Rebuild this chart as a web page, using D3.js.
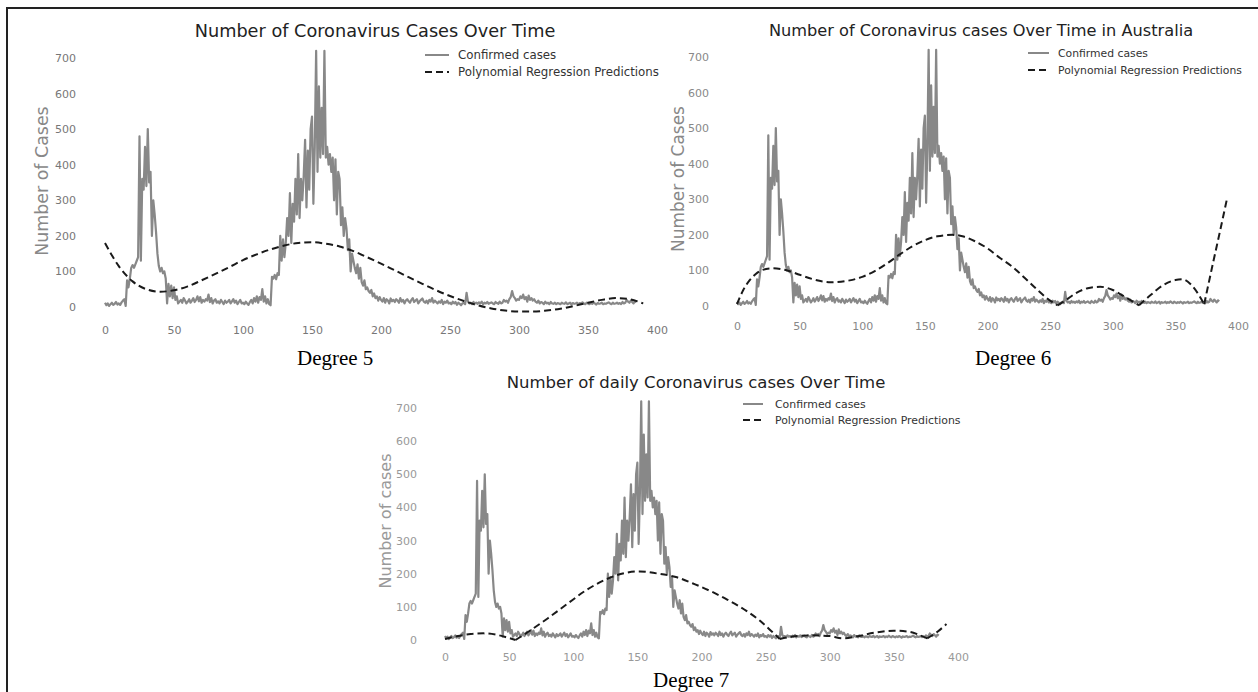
<!DOCTYPE html>
<html>
<head>
<meta charset="utf-8">
<script src="https://cdn.jsdelivr.net/npm/d3@7"></script>
<style>
  body { margin: 0; background: #fff; }
  svg { display: block; font-family: "DejaVu Sans", sans-serif; }
</style>
</head>
<body>
<svg id="chart" width="1258" height="692"></svg>
<script>
// daily confirmed cases, index = day
const confirmed = [
  12, 5, 10, 3, 8, 12, 6, 9, 14, 7,
  10, 6, 13, 18, 22, 3, 75, 55, 80, 110,
  118, 110, 120, 130, 140, 480, 130, 360, 330, 450,
  340, 500, 350, 380, 200, 300, 260, 210, 150, 115,
  100, 110, 95, 100, 80, 10, 65, 30, 60, 25,
  55, 20, 30, 10, 15, 20, 12, 25, 18, 10,
  15, 22, 12, 18, 25, 14, 20, 30, 16, 28,
  12, 20, 15, 22, 18, 35, 14, 25, 10, 18,
  22, 12, 16, 10, 20, 14, 8, 18, 12, 15,
  20, 10, 16, 22, 12, 18, 8, 14, 20, 10,
  12, 8, 15, 10, 6, 14, 20, 10, 25, 15,
  30, 12, 28, 20, 50, 15, 30, 10, 22, 8,
  5, 85, 80, 90, 78, 95, 90, 200, 130, 190,
  140, 180, 250, 200, 320, 180, 290, 240, 360, 260,
  430, 250, 360, 300, 370, 470, 280, 440, 330, 500,
  535, 290, 450, 720, 380, 620, 420, 560, 430, 720,
  420, 450, 400, 430, 380, 420, 300, 415, 260, 380,
  360, 230, 280, 200, 250, 220, 160, 190, 100, 150,
  130, 110, 95, 120, 80, 110, 70, 60, 75, 50,
  55, 45, 40, 48, 30, 38, 25, 30, 18, 28,
  20, 15, 25, 12, 22, 18, 10, 24, 16, 20,
  14, 22, 18, 12, 25, 15, 20, 10, 18, 22,
  16, 12, 20, 25, 14, 18, 22, 10, 16, 20,
  24, 15, 12, 18, 10, 20, 15, 25, 12, 18,
  14, 10, 16, 12, 20, 8, 15, 12, 18, 10,
  12, 8, 15, 10, 14, 6, 12, 9, 5, 10,
  12, 8, 40, 15, 10, 12, 8, 14, 10, 12,
  9, 13, 10, 15, 8, 12, 10, 14, 9, 11,
  13, 10, 8, 14, 11, 9, 15, 10, 12, 20,
  15, 18, 12, 22, 28, 45, 30, 25, 18, 22,
  20, 30, 25, 35, 22, 28, 15, 32, 20, 25,
  18, 22, 15, 12, 18, 10, 14, 12, 8, 15,
  10, 12, 8, 14, 10, 9, 12, 8, 11, 10,
  8, 12, 10, 9, 13, 8, 10, 12, 7, 11,
  9, 10, 12, 8, 11, 9, 13, 10, 8, 12,
  10, 8, 11, 9, 12, 10, 7, 11, 9, 10,
  12, 8, 10, 9, 11, 13, 10, 8, 12, 9,
  10, 12, 9, 11, 8, 14, 10, 12, 20, 15,
  12, 18, 14, 10, 16, 13
];

// polynomial regression predictions
const deg5Days = [0, 10, 20, 30, 40, 50, 60, 70, 80, 90, 100, 110, 120, 130, 140, 150, 160, 170, 180, 190,
  200, 210, 220, 230, 240, 250, 260, 270, 280, 290, 300, 310, 320, 330, 340, 350, 360, 370, 380, 390];
const deg5Values = [180, 115, 72, 50, 43, 47, 58, 75, 93, 112, 132, 148, 162, 173, 180, 182, 178, 170, 157, 140,
  122, 103, 84, 65, 47, 31, 17, 5, -4, -10, -13, -13, -10, -5, 3, 12, 20, 25, 22, 10];
const deg5Cusps = [];

const deg6Days = [0, 5, 10, 15, 20, 28, 40, 50, 60, 75, 90, 100, 110, 120, 130, 140, 150, 160, 172, 180,
  190, 200, 210, 220, 230, 240, 250, 256, 262, 270, 280, 290, 300, 310, 321, 330, 340, 350, 356, 362,
  368, 373, 380, 385, 391];
const deg6Values = [5, 45, 72, 90, 101, 106, 100, 88, 76, 67, 72, 82, 98, 120, 145, 168, 185, 196, 200, 196,
  182, 162, 135, 110, 78, 45, 15, 2, 15, 35, 50, 54, 45, 25, 2, 30, 58, 73, 75, 62,
  35, 5, 120, 200, 298];
const deg6Cusps = [256, 321, 373];

const deg7Days = [0, 10, 20, 30, 40, 48, 55, 65, 80, 95, 110, 125, 140, 152, 165, 180, 195, 210, 220, 235,
  245, 255, 261, 270, 285, 300, 310, 320, 335, 350, 362, 370, 376, 384, 391];
const deg7Values = [3, 12, 18, 20, 16, 8, 0, 25, 65, 108, 150, 182, 202, 207, 201, 190, 168, 142, 122, 88,
  60, 25, 3, 10, 14, 12, 5, 10, 22, 28, 25, 15, 5, 25, 48];
const deg7Cusps = [55, 261, 376];

const xTicks = [0, 50, 100, 150, 200, 250, 300, 350, 400];
const yTicks = [0, 100, 200, 300, 400, 500, 600, 700];
const legendLabels = ["Confirmed cases", "Polynomial Regression Predictions"];

const panels = [
  {
    title: "Number of Coronavirus Cases Over Time", yLabel: "Number of Cases", caption: "Degree 5",
    days: deg5Days, values: deg5Values, cusps: deg5Cusps,
    xr: [105, 657], yr: [307, 58], xAxisY: 326, tickRight: 76, tickColor: "#777",
    yLabelPos: [42, 181], yLabelSize: 17.4, yLabelColor: "#888", titlePos: [375, 31], titleSize: 17.7,
    legend: { x1: 425, x2: 449, tx: 458, rows: [55, 72], size: 11.8 },
    captionPos: [297, 358]
  },
  {
    title: "Number of Coronavirus cases Over Time in Australia", yLabel: "Number of Cases", caption: "Degree 6",
    days: deg6Days, values: deg6Values, cusps: deg6Cusps,
    xr: [737, 1238], yr: [306, 57], xAxisY: 322, tickRight: 709, tickColor: "#888",
    yLabelPos: [678, 179], yLabelSize: 17, yLabelColor: "#888", titlePos: [981, 30], titleSize: 16.2,
    legend: { x1: 1028, x2: 1049, tx: 1058, rows: [53, 70], size: 10.8 },
    captionPos: [975, 358]
  },
  {
    title: "Number of daily Coronavirus cases Over Time", yLabel: "Number of cases", caption: "Degree 7",
    days: deg7Days, values: deg7Values, cusps: deg7Cusps,
    xr: [445, 958], yr: [640, 408], xAxisY: 653, tickRight: 417, tickColor: "#999",
    yLabelPos: [385, 521], yLabelSize: 16, yLabelColor: "#999", titlePos: [696, 382], titleSize: 16.5,
    legend: { x1: 743, x2: 763, tx: 775, rows: [404, 420], size: 10.9 },
    captionPos: [653, 680]
  }
];

const svg = d3.select("#chart");

// frame around the figure
svg.append("path")
  .attr("d", "M7,692V8H1258")
  .attr("fill", "none")
  .attr("stroke", "#222")
  .attr("stroke-width", 2);

function splitAtCusps(points, cusps) {
  // break the curve at sharp minima so each part is smoothed on its own
  const parts = [];
  let cur = [];
  points.forEach(p => {
    cur.push(p);
    if (cusps.includes(p[0])) {
      parts.push(cur);
      cur = [p];
    }
  });
  if (cur.length > 1) parts.push(cur);
  return parts;
}

panels.forEach(p => {
  const g = svg.append("g");
  const x = d3.scaleLinear().domain([0, 400]).range(p.xr);
  const y = d3.scaleLinear().domain([0, 700]).range(p.yr);

  const xAxis = g.append("g")
    .attr("transform", `translate(0,${p.xAxisY})`)
    .call(d3.axisBottom(x).tickValues(xTicks).tickSize(0).tickPadding(0));
  const yAxis = g.append("g")
    .attr("transform", `translate(${p.tickRight},0)`)
    .call(d3.axisLeft(y).tickValues(yTicks).tickSize(0).tickPadding(0));
  [xAxis, yAxis].forEach(a => {
    a.attr("font-family", "DejaVu Sans").attr("font-size", 11).attr("color", p.tickColor);
    a.select(".domain").remove();
  });

  g.append("text")
    .attr("transform", `translate(${p.yLabelPos[0]},${p.yLabelPos[1]}) rotate(-90)`)
    .attr("text-anchor", "middle")
    .attr("dy", "0.35em")
    .attr("font-size", p.yLabelSize)
    .attr("fill", p.yLabelColor)
    .text(p.yLabel);

  g.append("text")
    .attr("x", p.titlePos[0])
    .attr("y", p.titlePos[1])
    .attr("dy", "0.35em")
    .attr("text-anchor", "middle")
    .attr("font-size", p.titleSize)
    .attr("fill", "#222")
    .text(p.title);

  const line = d3.line()
    .x((d, i) => x(i))
    .y(d => y(d));
  g.append("path")
    .attr("d", line(confirmed))
    .attr("fill", "none")
    .attr("stroke", "#888")
    .attr("stroke-width", 2.2)
    .attr("stroke-linejoin", "round");

  const pred = d3.line()
    .x(d => x(d[0]))
    .y(d => y(d[1]))
    .curve(d3.curveMonotoneX);
  const pts = p.days.map((d, i) => [d, p.values[i]]);
  splitAtCusps(pts, p.cusps).forEach(seg => {
    g.append("path")
      .attr("d", pred(seg))
      .attr("fill", "none")
      .attr("stroke", "#1a1a1a")
      .attr("stroke-width", 2)
      .attr("stroke-dasharray", "7,4");
  });

  // legend
  const lg = p.legend;
  lg.rows.forEach((ry, i) => {
    g.append("line")
      .attr("x1", lg.x1).attr("x2", lg.x2)
      .attr("y1", ry).attr("y2", ry)
      .attr("stroke", i === 0 ? "#888" : "#1a1a1a")
      .attr("stroke-width", 2)
      .attr("stroke-dasharray", i === 0 ? null : "7,4");
    g.append("text")
      .attr("x", lg.tx).attr("y", ry)
      .attr("dy", "0.35em")
      .attr("font-size", lg.size)
      .attr("fill", "#333")
      .text(legendLabels[i]);
  });

  g.append("text")
    .attr("x", p.captionPos[0])
    .attr("y", p.captionPos[1])
    .attr("dy", "0.35em")
    .attr("font-family", "Liberation Serif, serif")
    .attr("font-size", 21)
    .attr("fill", "#000")
    .text(p.caption);
});
</script>
</body>
</html>
